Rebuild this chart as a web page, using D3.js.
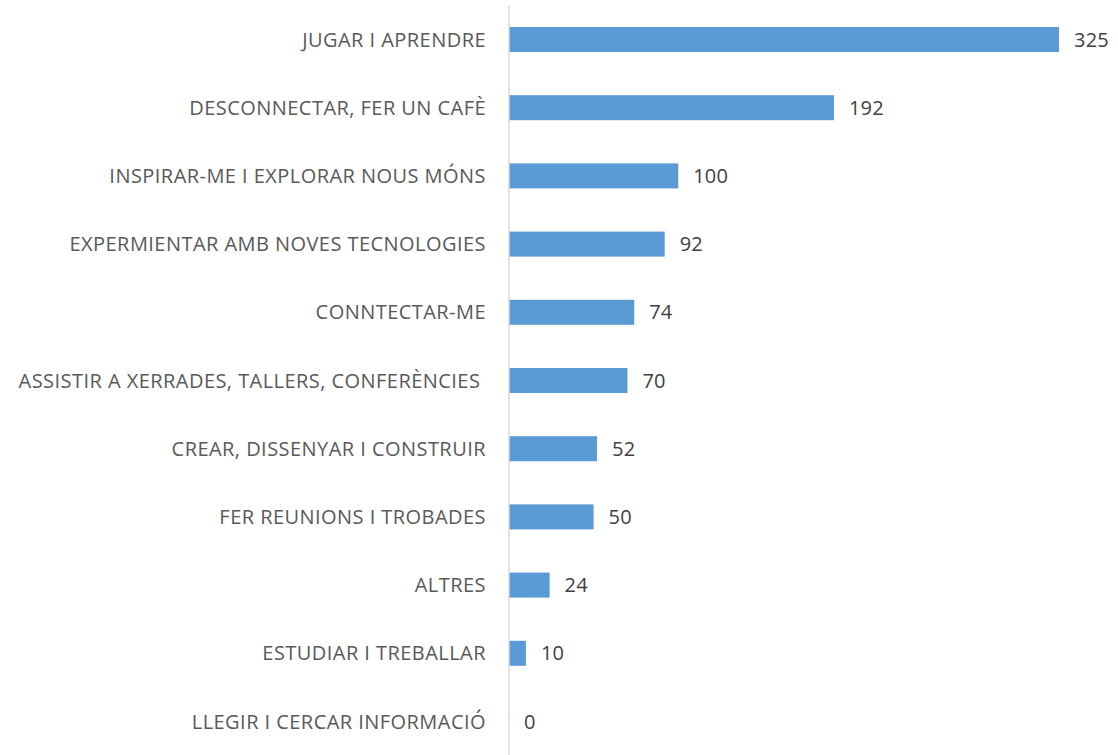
<!DOCTYPE html>
<html>
<head>
<meta charset="utf-8">
<script src="https://cdn.jsdelivr.net/npm/d3@7"></script>
<style>
  html, body { margin: 0; padding: 0; background: #ffffff; }
  svg { display: block; }
  text { font-family: "Open Sans", "Noto Sans", sans-serif; }
</style>
</head>
<body>
<svg id="chart" width="1118" height="755"></svg>
<script>
// Activities, top to bottom
const categories = [
  "JUGAR I APRENDRE",
  "DESCONNECTAR, FER UN CAFÈ",
  "INSPIRAR-ME I EXPLORAR NOUS MÓNS",
  "EXPERMIENTAR AMB NOVES TECNOLOGIES",
  "CONNTECTAR-ME",
  "ASSISTIR A XERRADES, TALLERS, CONFERÈNCIES ",
  "CREAR, DISSENYAR I CONSTRUIR",
  "FER REUNIONS I TROBADES",
  "ALTRES",
  "ESTUDIAR I TREBALLAR",
  "LLEGIR I CERCAR INFORMACIÓ"
];
const values = [325, 192, 100, 92, 74, 70, 52, 50, 24, 10, 0];

const svg = d3.select("#chart");
const axisX = 509;

const x = d3.scaleLinear()
  .domain([0, 325])
  .range([axisX, 1059]);

const y = d3.scaleBand()
  .domain(categories)
  .range([5.4, 755.6])
  .paddingInner(0.633)
  .paddingOuter(0.3165);

const data = categories.map((c, i) => ({ cat: c, val: values[i] }));

// Bars
svg.append("g")
  .selectAll("rect")
  .data(data)
  .join("rect")
  .attr("x", x(0))
  .attr("y", d => y(d.cat))
  .attr("width", d => x(d.val) - x(0))
  .attr("height", y.bandwidth())
  .attr("fill", "#5B9BD5");

// Vertical category axis line
svg.append("line")
  .attr("x1", axisX).attr("x2", axisX)
  .attr("y1", 6).attr("y2", 755)
  .attr("stroke", "#d9d9d9")
  .attr("stroke-width", 1.5);

// Category labels
svg.append("g")
  .selectAll("text")
  .data(data)
  .join("text")
  .attr("x", 486)
  .attr("y", d => y(d.cat) + y.bandwidth() / 2)
  .attr("dy", "0.35em")
  .attr("text-anchor", "end")
  .attr("font-size", 20)
  .attr("letter-spacing", "0.45px")
  .attr("fill", "#595959")
  .style("white-space", "pre")
  .text(d => d.cat);

// Value labels
svg.append("g")
  .selectAll("text")
  .data(data)
  .join("text")
  .attr("x", d => x(d.val) + 15)
  .attr("y", d => y(d.cat) + y.bandwidth() / 2)
  .attr("dy", "0.35em")
  .attr("font-size", 20)
  .attr("letter-spacing", "0.2px")
  .attr("fill", "#404040")
  .text(d => d.val);
</script>
</body>
</html>
